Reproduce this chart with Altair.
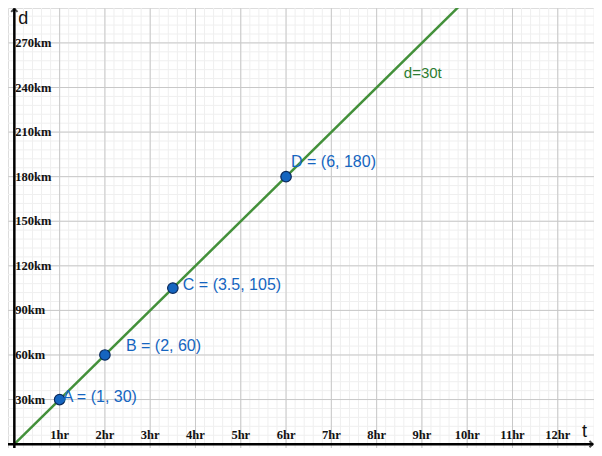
import altair as alt
import pandas as pd
import numpy as np

# ---- data ----
point_names = ["A", "B", "C", "D"]
point_t = [1, 2, 3.5, 6]
point_d = [30, 60, 105, 180]
point_labels = ["A = (1, 30)", "B = (2, 60)", "C = (3.5, 105)", "D = (6, 180)"]

x_tick_values = [1, 2, 3, 4, 5, 6, 7, 8, 9, 10, 11, 12]
x_tick_labels = ["1hr", "2hr", "3hr", "4hr", "5hr", "6hr", "7hr", "8hr", "9hr", "10hr", "11hr", "12hr"]
y_tick_values = [30, 60, 90, 120, 150, 180, 210, 240, 270]
y_tick_labels = ["30km", "60km", "90km", "120km", "150km", "180km", "210km", "240km", "270km"]

line_t = [0, 11]
line_d = [0, 330]
line_label = "d=30t"
line_label_t = [8.6]
line_label_d = [250]

T_MIN, T_MAX = -0.14, 12.8
D_MIN, D_MAX = -2.6, 293.5

W, H = 586, 440

xs = alt.Scale(domain=[T_MIN, T_MAX], nice=False, zero=False)
ys = alt.Scale(domain=[D_MIN, D_MAX], nice=False, zero=False)
X = lambda f: alt.X(f, type="quantitative", scale=xs, axis=None)
Y = lambda f: alt.Y(f, type="quantitative", scale=ys, axis=None)

# grid lines
minor_t = [round(v, 2) for v in np.arange(0, 12.81, 0.2)]
minor_d = [round(v, 2) for v in np.arange(0, 293.5, 6)]
major_t = list(range(0, 13))
major_d = list(range(0, 291, 30))

vminor = alt.Chart(pd.DataFrame({"t": minor_t})).mark_rule(color="#efefef", strokeWidth=1).encode(x=X("t"))
hminor = alt.Chart(pd.DataFrame({"d": minor_d})).mark_rule(color="#efefef", strokeWidth=1).encode(y=Y("d"))
vmajor = alt.Chart(pd.DataFrame({"t": major_t})).mark_rule(color="#c8c8c8", strokeWidth=1).encode(x=X("t"))
hmajor = alt.Chart(pd.DataFrame({"d": major_d})).mark_rule(color="#c8c8c8", strokeWidth=1).encode(y=Y("d"))

# axes
xaxis = alt.Chart(pd.DataFrame({"t": [T_MIN], "t2": [T_MAX - 0.02], "d": [0]})).mark_rule(
    color="black", strokeWidth=2.5).encode(x=X("t"), x2="t2", y=Y("d"))
yaxis = alt.Chart(pd.DataFrame({"t": [0], "d": [D_MIN], "d2": [D_MAX - 0.3]})).mark_rule(
    color="black", strokeWidth=2.5).encode(x=X("t"), y=Y("d"), y2="d2")

arrow_right = alt.Chart(pd.DataFrame({"t": [T_MAX - 0.03], "d": [0]})).mark_point(
    shape="M-1,-1L0,0L-1,1", filled=False, stroke="black", strokeWidth=2, size=40, clip=False
).encode(x=X("t"), y=Y("d"))
arrow_up = alt.Chart(pd.DataFrame({"t": [0], "d": [D_MAX - 0.5]})).mark_point(
    shape="M-1,1L0,0L1,1", filled=False, stroke="black", strokeWidth=2, size=40, clip=False
).encode(x=X("t"), y=Y("d"))

# tick labels
xlab = alt.Chart(pd.DataFrame({"t": x_tick_values, "lab": x_tick_labels, "d": [0] * len(x_tick_values)})).mark_text(
    font="Liberation Serif", fontWeight="bold", fontSize=12.5, color="#111111", baseline="middle",
    align="center", dy=-9
).encode(x=X("t"), y=Y("d"), text="lab:N")
ylab = alt.Chart(pd.DataFrame({"d": y_tick_values, "lab": y_tick_labels, "t": [0] * len(y_tick_values)})).mark_text(
    font="Liberation Serif", fontWeight="bold", fontSize=12.5, color="#111111", baseline="middle",
    align="left", dx=1
).encode(x=X("t"), y=Y("d"), text="lab:N")

# axis titles
ttitle = alt.Chart(pd.DataFrame({"t": [T_MAX], "d": [0], "lab": ["t"]})).mark_text(
    font="Liberation Sans", fontSize=18, color="#111111", align="right", baseline="bottom", dx=-7, dy=-3
).encode(x=X("t"), y=Y("d"), text="lab:N")
dtitle = alt.Chart(pd.DataFrame({"t": [0], "d": [D_MAX], "lab": ["d"]})).mark_text(
    font="Liberation Sans", fontSize=18, color="#111111", align="left", baseline="top", dx=4, dy=2
).encode(x=X("t"), y=Y("d"), text="lab:N")

# main line
line = alt.Chart(pd.DataFrame({"t": line_t, "d": line_d})).mark_line(
    color="#43903a", strokeWidth=2.5, clip=True
).encode(x=X("t"), y=Y("d"))
line_text = alt.Chart(pd.DataFrame({"t": line_label_t, "d": line_label_d, "lab": [line_label]})).mark_text(
    font="Liberation Sans", fontSize=15, color="#2e7d32", align="left", baseline="middle"
).encode(x=X("t"), y=Y("d"), text="lab:N")

pts_df = pd.DataFrame({"t": point_t, "d": point_d, "name": point_names, "lab": point_labels})
points = alt.Chart(pts_df).mark_point(
    filled=True, fill="#1565c0", stroke="#0b2a5c", strokeWidth=1.2, size=110, opacity=1, shape="circle"
).encode(x=X("t"), y=Y("d"))

offsets = {"A": (3, -3), "B": (21, -9), "C": (10, -3), "D": (5, -15)}
label_layers = []
for n in point_names:
    dx, dy = offsets[n]
    label_layers.append(
        alt.Chart(pts_df[pts_df["name"] == n]).mark_text(
            font="Liberation Sans", fontSize=16, color="#1565c0", align="left", baseline="middle",
            dx=dx, dy=dy
        ).encode(x=X("t"), y=Y("d"), text="lab:N")
    )

chart = alt.layer(
    vminor, hminor, vmajor, hmajor, line, xaxis, yaxis, arrow_right, arrow_up,
    xlab, ylab, ttitle, dtitle, line_text, points, *label_layers
).properties(
    width=W, height=H, padding=0, autosize=alt.AutoSizeParams(type="none")
).configure_view(stroke=None).configure(background="white")

chart.save("out.html", embed_options={"renderer": "svg", "actions": False})
